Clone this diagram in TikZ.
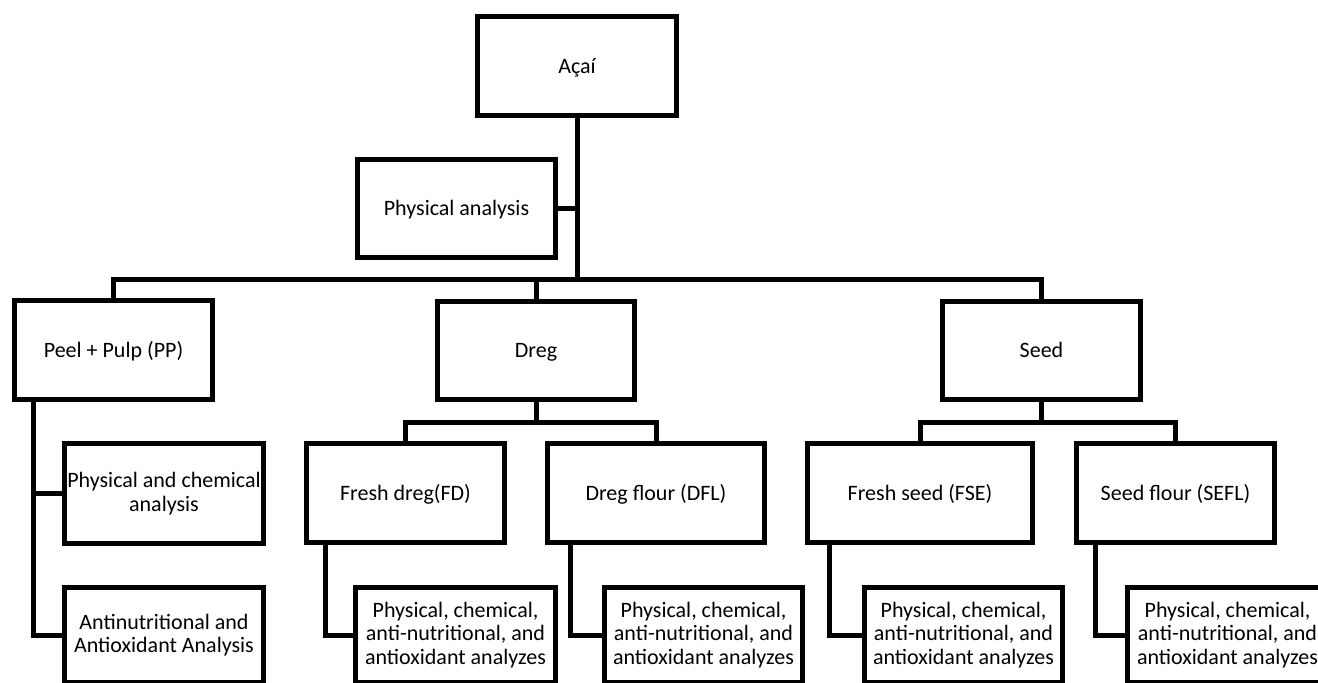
\documentclass[tikz,border=0pt]{standalone}
\usepackage{fontspec}
\setmainfont{Carlito}

\tikzset{
  box/.style={draw, line width=5pt, inner sep=0pt, align=center,
    font=\fontsize{22}{23.5}\selectfont},
  oneline/.style={box, text height=18pt, text depth=4pt},
  link/.style={line width=5pt},
}

\begin{document}
\begin{tikzpicture}[x=1pt, y=-1pt]
  %%%%% START %%%%%
  \useasboundingbox (0,0) rectangle (1318,683);
  \clip (0,0) rectangle (1318,683);

  % top level
  \node[oneline, minimum width=199pt, minimum height=99pt] (acai) at (577, 66) {Açaí};
  \node[oneline, minimum width=198pt, minimum height=98pt] (phys) at (456.5, 208.5) {Physical analysis};

  % fruit parts
  \node[oneline, minimum width=198pt, minimum height=99pt] (pp)   at (113.5, 350)  {Peel + Pulp (PP)};
  \node[oneline, minimum width=197pt, minimum height=98pt] (dreg) at (536, 350.5)  {Dreg};
  \node[oneline, minimum width=198pt, minimum height=98pt] (seed) at (1041.5, 350.5) {Seed};

  % peel + pulp analyses
  \node[box, minimum width=199pt, minimum height=100pt] (pca)  at (164, 493.5) {Physical and chemical\\analysis};
  \node[box, minimum width=199pt, minimum height=95pt]  (anti) at (164, 635)   {Antinutritional and\\Antioxidant Analysis};

  % dreg and seed products
  \node[oneline, minimum width=198pt, minimum height=99pt] (fd)   at (405.5, 493)  {Fresh dreg(FD)};
  \node[oneline, minimum width=217pt, minimum height=99pt] (dfl)  at (656, 493)    {Dreg flour (DFL)};
  \node[oneline, minimum width=225pt, minimum height=99pt] (fse)  at (920, 493)    {Fresh seed (FSE)};
  \node[oneline, minimum width=198pt, minimum height=99pt] (sefl) at (1175.5, 493) {Seed flour (SEFL)};

  % analyses of each product
  \node[box, minimum width=200pt, minimum height=95pt] (fdx)   at (455.5, 635)  {Physical, chemical,\\anti-nutritional, and\\antioxidant analyzes};
  \node[box, minimum width=198pt, minimum height=95pt] (dflx)  at (703.5, 635)  {Physical, chemical,\\anti-nutritional, and\\antioxidant analyzes};
  \node[box, minimum width=198pt, minimum height=95pt] (fsex)  at (963.5, 635)  {Physical, chemical,\\anti-nutritional, and\\antioxidant analyzes};
  \node[box, minimum width=200pt, minimum height=95pt] (seflx) at (1227.5, 635) {Physical, chemical,\\anti-nutritional, and\\antioxidant analyzes};

  % hubs of the tree
  \coordinate (hub)  at (577, 279);
  \coordinate (dhub) at (536, 422);
  \coordinate (shub) at (1041.5, 422);

  \draw[link] (acai.south) -- (hub);
  \draw[link] (phys.east) -- (phys.east -| hub);
  \draw[link] (pp.north) |- (hub) -| (seed.north);
  \draw[link] (dreg.north) -- (dreg.north |- hub);

  \draw[link] (dreg.south) -- (dhub);
  \draw[link] (fd.north) |- (dhub) -| (dfl.north);
  \draw[link] (seed.south) -- (shub);
  \draw[link] (fse.north) |- (shub) -| (sefl.north);

  % side branches
  \coordinate (ppd)   at ([xshift=21pt]pp.south west);
  \coordinate (fdd)   at ([xshift=21pt]fd.south west);
  \coordinate (dfld)  at ([xshift=25pt]dfl.south west);
  \coordinate (fsed)  at ([xshift=24pt]fse.south west);
  \coordinate (sefld) at ([xshift=21pt]sefl.south west);

  \draw[link] (ppd) |- (anti.west);
  \draw[link] (pca.west) -- (pca.west -| ppd);
  \draw[link] (fdd) |- (fdx.west);
  \draw[link] (dfld) |- (dflx.west);
  \draw[link] (fsed) |- (fsex.west);
  \draw[link] (sefld) |- (seflx.west);
  %%%%% END %%%%%
\end{tikzpicture}
\end{document}
